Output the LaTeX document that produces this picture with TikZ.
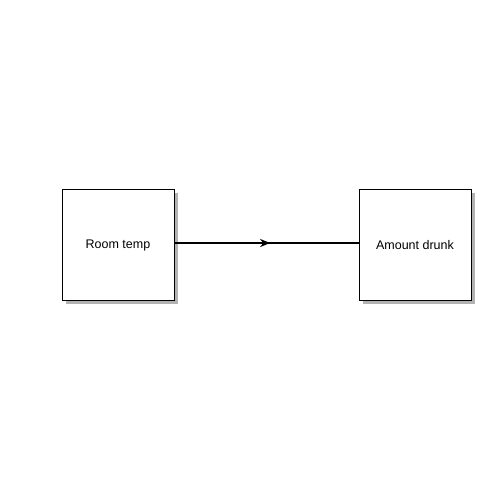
\documentclass[tikz,border=0pt]{standalone}
\usepackage{fontspec}
\setmainfont{Liberation Sans}
\usetikzlibrary{shadows,decorations.markings,arrows.meta}
\begin{document}
\begin{tikzpicture}[x=1pt,y=-1pt,
  box/.style={draw=black, line width=1pt, fill=white, minimum width=112pt, minimum height=111pt, inner sep=0pt,
    font=\fontsize{12.5}{14}\selectfont, text depth=0pt,
    drop shadow={shadow xshift=3.5pt, shadow yshift=-3.5pt, fill=black!30, opacity=1}},
  link/.style={line width=2pt, postaction={decorate}, decoration={markings, mark=at position 0.52 with {\arrow{Stealth[length=10pt,width=8pt,inset=3pt]}}}}]
\useasboundingbox[fill=white] (0,0) rectangle (504,504);
\node[box] (a) at (118,244.5) {Room temp};
\node[box] (b) at (415,244.5) {Amount drunk};
\draw[link] (a.east |- 0,243) -- (b.west |- 0,243);
\end{tikzpicture}
\end{document}
